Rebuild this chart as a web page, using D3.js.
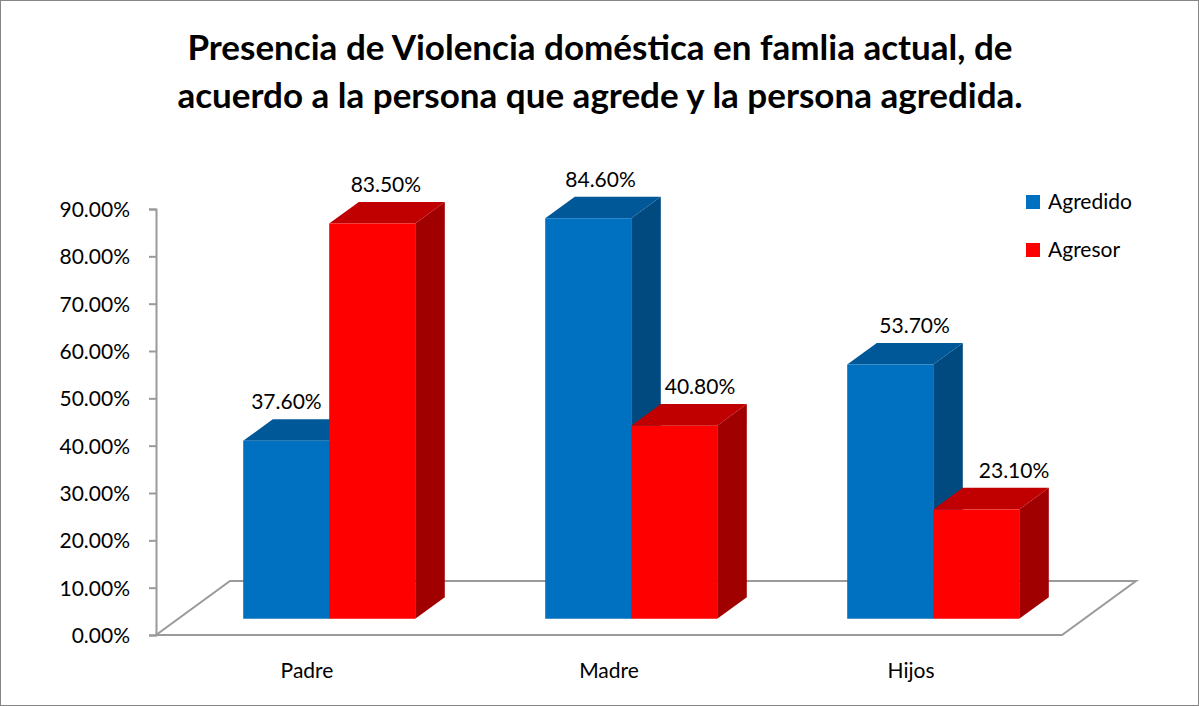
<!DOCTYPE html>
<html><head><meta charset="utf-8">
<script src="https://cdn.jsdelivr.net/npm/d3@7"></script>
<style>body{margin:0;background:#fff}svg{display:block}text{font-family:Lato,"Open Sans",sans-serif}</style>
</head><body><svg id="c" width="1199" height="706"></svg>
<script>
const categories = ["Padre", "Madre", "Hijos"];
const seriesNames = ["Agredido", "Agresor"];
const agredido = [0.376, 0.846, 0.537];
const agresor = [0.835, 0.408, 0.231];
const yTicks = [0, 0.1, 0.2, 0.3, 0.4, 0.5, 0.6, 0.7, 0.8, 0.9];
const titleLines = ["Presencia de Violencia doméstica en famlia actual, de", "acuerdo a la persona que agrede y la persona agredida."];

const colors = {
  Agredido: {front: "#0070C0", top: "#005899", side: "#004A80"},
  Agresor: {front: "#FF0000", top: "#C00000", side: "#A00000"}
};
const FS = 21;

const svg = d3.select("#c");
svg.append("rect").attr("x", 0.5).attr("y", 0.5).attr("width", 1198).attr("height", 705)
  .attr("fill", "#fff").attr("stroke", "#868686").attr("stroke-width", 1);

// title
svg.append("g").selectAll("text").data(titleLines).join("text")
  .attr("x", 600).attr("y", (d, i) => 60 + i * 48)
  .attr("text-anchor", "middle").attr("font-size", 35).attr("font-weight", "bold")
  .attr("fill", "#000").text(d => d);

// scales (front plane)
const x = d3.scaleBand().domain(categories).range([156, 1062]);
const y = d3.scaleLinear().domain([0, 0.9]).range([635, 209]);
const depth = {dx: 74, dy: -54};
const d0 = 0.3, d1 = 0.7;
const inner = d3.scaleBand().domain(seriesNames).range([0, 172]);
const P = (px, v, d) => [px + d * depth.dx, y(v) + d * depth.dy];

// floor
const xl = x.range()[0], xr = x.range()[1];
const floorPts = [P(xl, 0, 0), P(xl, 0, 1), P(xr, 0, 1), P(xr, 0, 0)];
svg.append("path").attr("d", d3.line()(floorPts) + "Z")
  .attr("fill", "none").attr("stroke", "#9a9a9a").attr("stroke-width", 2);

// y axis
const ax = svg.append("g").attr("transform", `translate(${xl},0)`)
  .call(d3.axisLeft(y).tickValues(yTicks).tickSize(7).tickPadding(19)
    .tickFormat(d => d3.format(".2f")(d * 100) + "%"));
ax.select(".domain").attr("stroke", "#9a9a9a").attr("stroke-width", 2);
ax.selectAll(".tick line").attr("stroke", "#9a9a9a").attr("stroke-width", 2);
ax.selectAll(".tick text").attr("font-size", FS).attr("fill", "#000")
  .attr("font-family", "Lato, sans-serif").attr("dy", "0.35em");

// x labels
svg.append("g").selectAll("text").data(categories).join("text")
  .attr("x", d => x(d) + x.bandwidth() / 2).attr("y", 678)
  .attr("text-anchor", "middle").attr("font-size", FS).attr("fill", "#000").text(d => d);

// bars
const bars = [];
categories.forEach((c, i) => {
  [agredido[i], agresor[i]].forEach((v, j) => {
    bars.push({cat: c, series: seriesNames[j], v});
  });
});
const barG = svg.append("g");
bars.forEach(b => {
  const x0 = x(b.cat) + x.bandwidth() / 2 - 86 + inner(b.series);
  const x1 = x0 + inner.bandwidth();
  const col = colors[b.series];
  const line = d3.line();
  const g = barG.append("g");
  g.append("path").attr("d", line([P(x1, 0, d0), P(x1, 0, d1), P(x1, b.v, d1), P(x1, b.v, d0)]) + "Z")
    .attr("fill", col.side);
  g.append("path").attr("d", line([P(x0, b.v, d0), P(x0, b.v, d1), P(x1, b.v, d1), P(x1, b.v, d0)]) + "Z")
    .attr("fill", col.top);
  g.append("path").attr("d", line([P(x0, 0, d0), P(x0, b.v, d0), P(x1, b.v, d0), P(x1, 0, d0)]) + "Z")
    .attr("fill", col.front);
  b.x0 = x0; b.x1 = x1;
});

// labels
svg.append("g").selectAll("text").data(bars).join("text")
  .attr("x", b => {
    const fc = P((b.x0 + b.x1) / 2, b.v, d0)[0];
    return fc + 14 + (fc - 630) * 0.04 + (b.series === "Agresor" ? 10 : 0);
  })
  .attr("y", b => P(b.x0, b.v, d1)[1] - 10)
  .attr("text-anchor", "middle").attr("font-size", FS).attr("fill", "#000")
  .text(b => d3.format(".2f")(b.v * 100) + "%");

// legend
const lg = svg.append("g").attr("transform", "translate(1026,0)");
lg.selectAll("rect").data(seriesNames).join("rect")
  .attr("x", 0).attr("y", (d, i) => 195 + i * 48).attr("width", 14).attr("height", 14)
  .attr("fill", d => colors[d].front);
lg.selectAll("text").data(seriesNames).join("text")
  .attr("x", 22).attr("y", (d, i) => 202 + i * 48).attr("dy", "0.35em")
  .attr("font-size", FS).attr("fill", "#000").text(d => d);
</script></body></html>
